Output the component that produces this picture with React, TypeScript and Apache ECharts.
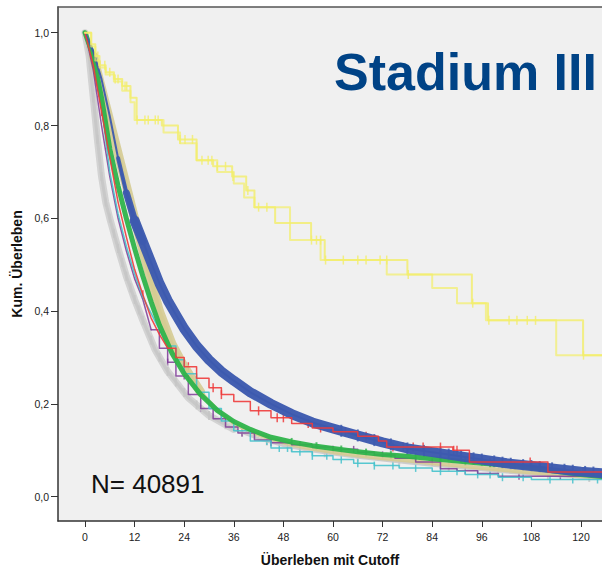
import React, { useEffect, useRef } from "react";
import * as echarts from "echarts";

const xTicks = [0, 12, 24, 36, 48, 60, 72, 84, 96, 108, 120];
const yTicks = [0, 0.2, 0.4, 0.6, 0.8, 1.0];

const blueCurve: [number, number][] = [[0,1],[2,0.96],[4,0.9],[6,0.82],[8,0.73],[10,0.655],[12,0.595],[14,0.55],[16,0.505],[18,0.46],[20,0.423],[22,0.392],[24,0.362],[27,0.325],[30,0.295],[33,0.27],[36,0.25],[40,0.225],[45,0.2],[50,0.178],[55,0.16],[60,0.147],[66,0.132],[72,0.117],[78,0.104],[84,0.096],[90,0.088],[96,0.08],[102,0.072],[108,0.066],[114,0.06],[120,0.054],[126,0.05]];
const greenCurve: [number, number][] = [[0,1],[2,0.95],[4,0.86],[6,0.75],[8,0.67],[10,0.6],[12,0.535],[14,0.475],[16,0.42],[18,0.37],[21,0.31],[24,0.265],[28,0.22],[32,0.186],[36,0.162],[40,0.145],[45,0.128],[50,0.118],[55,0.11],[60,0.104],[66,0.097],[72,0.091],[78,0.087],[84,0.082],[90,0.077],[96,0.072],[102,0.068],[108,0.063],[114,0.055],[120,0.048],[126,0.043]];
const tanCurve: [number, number][] = [[0,1],[2,0.95],[4,0.88],[6,0.81],[8,0.74],[10,0.67],[12,0.6],[14,0.53],[16,0.465],[18,0.4],[21,0.33],[24,0.28],[28,0.225],[32,0.186],[36,0.158],[40,0.14],[45,0.124],[50,0.112],[55,0.103],[60,0.096],[66,0.089],[72,0.083],[78,0.078],[84,0.072],[90,0.067],[96,0.062],[102,0.057],[108,0.052],[114,0.048],[120,0.044],[126,0.041]];
const grayCurve: [number, number][] = [[0,1],[1,0.95],[2,0.86],[3,0.77],[4,0.69],[5,0.635],[6,0.6],[8,0.535],[10,0.475],[12,0.425],[14,0.38],[17,0.316],[20,0.27],[25,0.213],[30,0.175],[36,0.145],[42,0.125],[48,0.11],[54,0.1],[60,0.092],[66,0.085],[72,0.079],[78,0.073],[84,0.068],[90,0.063],[96,0.058],[102,0.053],[108,0.049],[114,0.045],[120,0.042],[126,0.04]];
const redCurve: [number, number][] = [[0,1],[2,0.93],[4,0.83],[6,0.73],[8,0.635],[10,0.56],[12,0.49],[14,0.435],[16,0.385],[18,0.35],[20,0.32],[22,0.3],[24,0.28],[27,0.255],[30,0.235],[33,0.22],[36,0.205],[40,0.185],[45,0.17],[50,0.158],[55,0.148],[60,0.14],[66,0.13],[71,0.12],[73,0.107],[89,0.1],[93,0.075],[112,0.053],[126,0.05]];
const purpleCurve: [number, number][] = [[0,1],[2,0.92],[4,0.8],[6,0.69],[8,0.6],[10,0.53],[12,0.47],[14,0.425],[16,0.36],[18,0.32],[20,0.29],[22,0.26],[25,0.22],[28,0.19],[31,0.168],[34,0.15],[37,0.137],[41,0.122],[45,0.116],[50,0.112],[55,0.107],[60,0.102],[66,0.096],[70,0.09],[75,0.083],[80,0.075],[86,0.06],[90,0.056],[95,0.05],[100,0.044],[126,0.042]];
const cyanCurve: [number, number][] = [[0,1],[2,0.94],[4,0.84],[6,0.7],[8,0.61],[10,0.54],[12,0.48],[14,0.43],[16,0.395],[18,0.36],[20,0.325],[22,0.295],[24,0.265],[27,0.225],[30,0.19],[33,0.163],[36,0.142],[40,0.12],[45,0.105],[50,0.097],[55,0.088],[60,0.08],[65,0.072],[70,0.067],[76,0.062],[84,0.055],[92,0.048],[100,0.042],[108,0.037],[126,0.036]];
const yellowCurveA: [number, number][] = [[0,1],[1.5,0.975],[2.5,0.95],[3.5,0.93],[5,0.915],[7,0.9],[9,0.885],[11,0.86],[12.5,0.812],[18.6,0.8],[22.5,0.77],[27,0.725],[31,0.712],[35.6,0.69],[39,0.66],[41,0.624],[46,0.59],[54.7,0.553],[58,0.51],[78,0.479],[93.6,0.417],[97.5,0.38],[120.5,0.305],[126,0.305]];
const yellowCurveB: [number, number][] = [[0,1],[1.5,0.97],[2.5,0.94],[3.5,0.925],[5,0.91],[7,0.895],[9,0.875],[11,0.85],[12,0.812],[19,0.785],[23,0.762],[27,0.725],[32,0.7],[36,0.675],[38.5,0.645],[41,0.624],[49.6,0.553],[57,0.51],[73,0.479],[84,0.45],[90,0.417],[97,0.38],[114,0.305],[126,0.305]];

const yellowCensor = [3.1,3.6,4.8,6,7.3,8,9.7,10.1,12.6,14.5,15.3,17,17.7,23,24.2,26,28.3,29.8,30.7,32,34,35.8,39.4,42,44,54.8,56,57,58.2,62.5,66,68,71.4,73,78.2,93.8,97.7,102.6,104.5,107,109,120.6];
const redCensor = [3.5,4,14,22,25,31,33,42,46.5,48,54,57,63,68,74.5,77,79.4,81.8,86,89.2,90,98,107.7,116,120.5];
const cyanCensor = [44,47,49,52,55,58.5,62,66,70,74.5,80,86,90,95,98,101,106,112.5,118,124];
const purpleCensor = [20,24,28,33,38,45,52,60,65,72,84,92,105,115];
const blueCensor = [62,66,70,74,78,82,86,88,91,94,96,99,101,103,106,108,110,113,116,118,121,123];
const greenCensor = [50,56,62,68,74,80,86,92,98,104,110,116,122];
const grayCensor = [2,3,4,5,6,7,8,9,10,11,12,13,14,16,18,20,22,24,27,30,34,38,44,50,58,66,76,88,100,112,122];

const FONT = "'Liberation Sans', Arial, Helvetica, sans-serif";

function valueAt(data: [number, number][], t: number, step: boolean): number {
  if (step) {
    let v = data[0][1];
    for (const [x, y] of data) {
      if (x <= t) v = y; else break;
    }
    return v;
  }
  for (let i = 1; i < data.length; i++) {
    const [x0, y0] = data[i - 1];
    const [x1, y1] = data[i];
    if (t <= x1) return y0 + ((t - x0) / (x1 - x0)) * (y1 - y0);
  }
  return data[data.length - 1][1];
}

function slice(data: [number, number][], from: number, to: number) {
  return data.filter(([t]) => t >= from && t <= to);
}

function line(data: [number, number][], color: string, width: number, opacity: number, step = false, cap = "round") {
  return {
    type: "line",
    data,
    showSymbol: false,
    symbol: "none",
    step: step ? "end" : false,
    silent: true,
    smooth: false,
    lineStyle: { color, width, opacity, cap, join: "round" },
  };
}

function marks(curve: [number, number][], times: number[], step: boolean, color: string, size: [number, number], opacity: number) {
  return {
    type: "scatter",
    data: times.map((t) => [t, valueAt(curve, t, step)]),
    symbol: "rect",
    symbolSize: size,
    silent: true,
    itemStyle: { color, opacity },
  };
}

const GRAY = "#C6C6C6";
const TAN = "#D5CB92";
const PURPLE = "#7E3A96";
const CYAN = "#46C2CC";
const GREEN = "#2EB34A";
const BLUE = "#3D5AAE";
const RED = "#EE3B3B";
const YELLOW = "#F2EE6A";

export default function App() {
  const ref = useRef<HTMLDivElement>(null);
  useEffect(() => {
    document.body.style.margin = "0";
    const chart = echarts.init(ref.current!, null, { renderer: "svg" });
    const fmt = (v: number) => v.toFixed(1).replace(".", ",");
    const option: any = {
      animation: false,
      backgroundColor: "#FFFFFF",
      grid: {
        left: 58,
        top: 7,
        right: 0,
        bottom: 48,
        show: true,
        backgroundColor: "#F0F0F0",
        borderWidth: 0,
        containLabel: false,
        outerBoundsMode: "none",
      },
      xAxis: [
        {
          type: "value",
          min: -6.53,
          max: 125.08,
          name: "Überleben mit Cutoff",
          nameLocation: "middle",
          nameGap: 32,
          nameTextStyle: { fontFamily: FONT, fontSize: 14, fontWeight: "bold", color: "#111" },
          axisLine: { show: true, onZero: false, lineStyle: { color: "#333", width: 1.5 } },
          axisTick: { show: true, length: 6, customValues: xTicks, lineStyle: { color: "#333" } },
          axisLabel: { show: true, customValues: xTicks, margin: 10, fontFamily: FONT, fontSize: 10.5, color: "#222" },
          splitLine: { show: false },
        },
        {
          type: "value",
          position: "top",
          min: -6.53,
          max: 125.08,
          axisLine: { show: true, onZero: false, lineStyle: { color: "#555", width: 1.5 } },
          axisTick: { show: false },
          axisLabel: { show: false },
          splitLine: { show: false },
        },
      ],
      yAxis: {
        type: "value",
        min: -0.0524,
        max: 1.0554,
        name: "Kum. Überleben",
        nameLocation: "middle",
        nameGap: 34,
        nameTextStyle: { fontFamily: FONT, fontSize: 14, fontWeight: "bold", color: "#111" },
        axisLine: { show: true, onZero: false, lineStyle: { color: "#333", width: 1.5 } },
        axisTick: { show: true, length: 7, customValues: yTicks, lineStyle: { color: "#333" } },
        axisLabel: { show: true, customValues: yTicks, margin: 9, fontFamily: FONT, fontSize: 10.5, color: "#222", formatter: fmt },
        splitLine: { show: false },
      },
      graphic: [
        {
          type: "text",
          left: 334,
          top: 46,
          style: { text: "Stadium III", font: `bold 52px ${FONT}`, fill: "#004386" },
        },
        {
          type: "text",
          left: 91,
          top: 471,
          style: { text: "N= 40891", font: `26px ${FONT}`, fill: "#111" },
        },
      ],
      series: [
        line(slice(grayCurve, 0, 36), GRAY, 7, 0.7),
        line(grayCurve, GRAY, 3, 0.85),
        marks(grayCurve, grayCensor, false, GRAY, [2, 9], 0.8),
        line(slice(tanCurve, 2, 28), TAN, 9, 0.9),
        line(tanCurve, TAN, 4, 0.9),
        line(slice(purpleCurve, 0, 16), PURPLE, 1.5, 0.85),
        line(slice(purpleCurve, 16, 130), PURPLE, 1.5, 0.85, true),
        marks(purpleCurve, purpleCensor, true, PURPLE, [1.5, 7], 0.8),
        line(slice(cyanCurve, 0, 20), CYAN, 1.5, 0.9),
        line(slice(cyanCurve, 20, 130), CYAN, 1.5, 0.9, true),
        marks(cyanCurve, cyanCensor, true, CYAN, [1.5, 8], 0.85),
        line(greenCurve, GREEN, 5, 0.95),
        marks(greenCurve, greenCensor, false, GREEN, [2, 8], 0.8),
        line(blueCurve, BLUE, 2, 0.95),
        line(slice(blueCurve, 8, 12), BLUE, 4, 0.95),
        line(slice(blueCurve, 10, 14), BLUE, 7, 0.95),
        line(slice(blueCurve, 12, 130), BLUE, 10, 0.97),
        marks(blueCurve, blueCensor, false, BLUE, [2, 12], 0.85),
        line(slice(redCurve, 0, 20), RED, 1.5, 0.9),
        line(slice(redCurve, 20, 130), RED, 1.5, 0.9, true),
        marks(redCurve, redCensor, true, RED, [1.5, 9], 0.85),
        line(yellowCurveB, YELLOW, 2, 0.7, true),
        line(yellowCurveA, YELLOW, 2, 0.8, true),
        marks(yellowCurveA, yellowCensor, true, YELLOW, [1.5, 9], 0.8),
      ],
    };
    chart.setOption(option);
    return () => chart.dispose();
  }, []);
  return <div ref={ref} style={{ width: 602, height: 569 }} />;
}
